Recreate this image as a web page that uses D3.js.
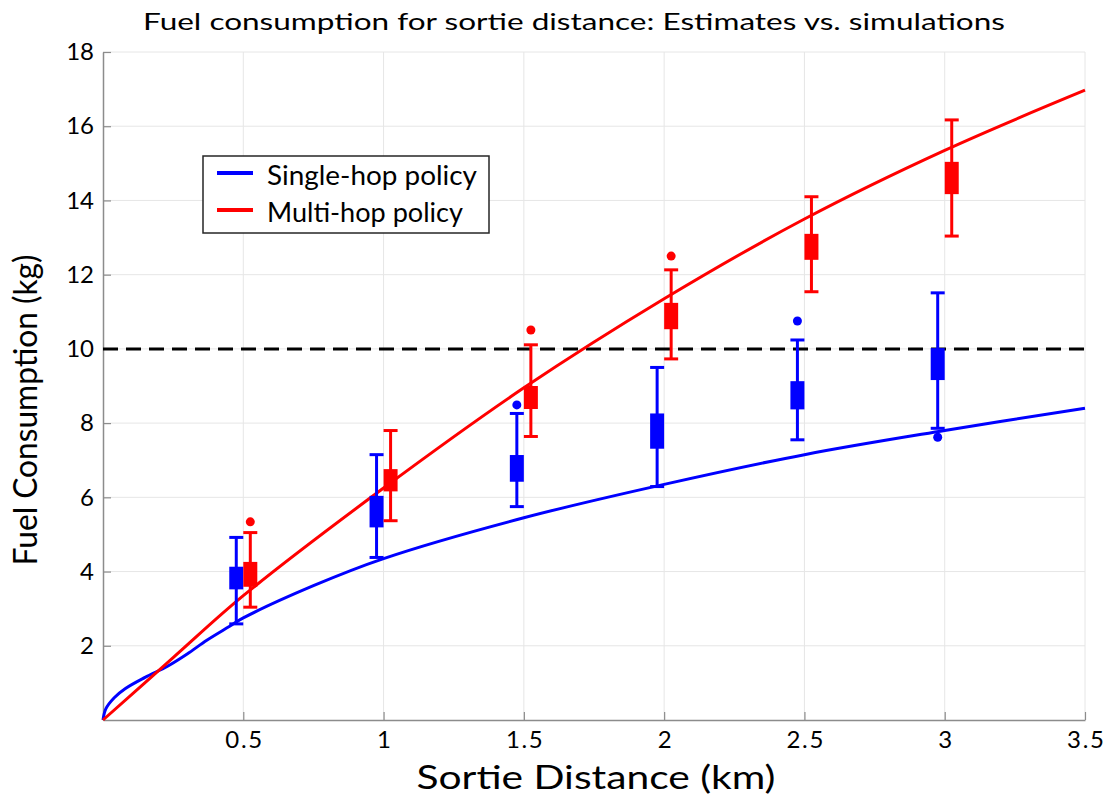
<!DOCTYPE html>
<html>
<head>
<meta charset="utf-8">
<script src="https://cdn.jsdelivr.net/npm/d3@7"></script>
<style>
  body { margin: 0; background: #fff; }
  text { font-family: Lato, "Open Sans", sans-serif; fill: #000; }
</style>
</head>
<body>
<svg width="1107" height="800"></svg>
<script>
// estimate curves
const singleX = [0, 0.01, 0.04, 0.08, 0.15, 0.23, 0.3, 0.37, 0.45, 0.5, 0.75, 1, 1.5, 2, 2.5, 3, 3.5];
const singleY = [0, 0.3, 0.6, 0.85, 1.15, 1.45, 1.78, 2.15, 2.52, 2.75, 3.62, 4.35, 5.45, 6.35, 7.15, 7.8, 8.4];
const multiX = [0, 0.25, 0.5, 1, 1.5, 2, 2.5, 3, 3.5];
const multiY = [0, 1.68, 3.35, 6.25, 8.95, 11.35, 13.5, 15.35, 16.97];

// simulated box plots
const distances = [0.5, 1, 1.5, 2, 2.5, 3];
const singleLow  = [2.59, 4.38, 5.75, 6.29, 7.55, 7.86];
const singleQ1   = [3.52, 5.19, 6.42, 7.31, 8.37, 9.16];
const singleQ3   = [4.13, 6.04, 7.14, 8.26, 9.13, 10.02];
const singleHigh = [4.92, 7.15, 8.26, 9.50, 10.24, 11.51];
const singleOut  = [[], [], [8.49], [], [10.75], [7.62]];

const multiLow  = [3.04, 5.37, 7.64, 9.73, 11.54, 13.04];
const multiQ1   = [3.59, 6.16, 8.38, 10.53, 12.40, 14.17];
const multiQ3   = [4.26, 6.76, 9.00, 11.24, 13.10, 15.04];
const multiHigh = [5.05, 7.80, 10.11, 12.13, 14.10, 16.17];
const multiOut  = [[5.34], [], [10.51], [12.50], [], []];

const threshold = 10;
const xTicks = [0.5, 1, 1.5, 2, 2.5, 3, 3.5];
const yTicks = [2, 4, 6, 8, 10, 12, 14, 16, 18];

const BLUE = '#0000ff', RED = '#ff0000';
const PLOT = { left: 103, right: 1085, top: 52, bottom: 720 };

const x = d3.scaleLinear().domain([0, 3.5]).range([PLOT.left, PLOT.right]);
const y = d3.scaleLinear().domain([0, 18]).range([PLOT.bottom, PLOT.top]);

const svg = d3.select('svg');

// GRID
svg.append('g').selectAll('line').data(xTicks).enter().append('line')
    .attr('x1', d => x(d)).attr('x2', d => x(d))
    .attr('y1', PLOT.top).attr('y2', PLOT.bottom)
    .attr('stroke', '#e6e6e6').attr('stroke-width', 1);
svg.append('g').selectAll('line').data(yTicks).enter().append('line')
    .attr('x1', PLOT.left).attr('x2', PLOT.right)
    .attr('y1', d => y(d)).attr('y2', d => y(d))
    .attr('stroke', '#e6e6e6').attr('stroke-width', 1);

// AXES
const fmt = d3.format('~g');
const xAxis = svg.append('g')
    .attr('transform', `translate(0, ${PLOT.bottom})`)
    .call(d3.axisBottom(x).tickValues(xTicks).tickFormat(fmt).tickSizeInner(-8).tickSizeOuter(0).tickPadding(11));
const yAxis = svg.append('g')
    .attr('transform', `translate(${PLOT.left}, 0)`)
    .call(d3.axisLeft(y).tickValues(yTicks).tickFormat(fmt).tickSizeInner(-8).tickSizeOuter(0).tickPadding(9));
[xAxis, yAxis].forEach(ax => {
    ax.select('.domain').attr('stroke', '#8c8c8c').attr('stroke-width', 1.5);
    ax.selectAll('.tick line').attr('stroke', '#8c8c8c').attr('stroke-width', 1.2);
    ax.selectAll('.tick text').style('font-size', '24px').attr('fill', '#000');
});
xAxis.selectAll('.tick text').attr('textLength', function () { return this.getComputedTextLength() * 1.1; });

// THRESHOLD LINE
svg.append('line')
    .attr('x1', x(0)).attr('x2', x(3.5))
    .attr('y1', y(threshold)).attr('y2', y(threshold))
    .attr('stroke', '#000').attr('stroke-width', 3)
    .attr('stroke-dasharray', '15 8');

// CURVES
const line = d3.line().x(d => x(d[0])).y(d => y(d[1])).curve(d3.curveCatmullRom.alpha(0.5));
svg.append('path').datum(d3.zip(singleX, singleY))
    .attr('d', line).attr('fill', 'none').attr('stroke', BLUE).attr('stroke-width', 3);
svg.append('path').datum(d3.zip(multiX, multiY))
    .attr('d', line).attr('fill', 'none').attr('stroke', RED).attr('stroke-width', 3);

// BOX PLOTS
function drawBoxes(color, offset, low, q1, q3, high, outliers) {
    const g = svg.append('g');
    const data = distances.map((d, i) => ({ d, low: low[i], q1: q1[i], q3: q3[i], high: high[i], out: outliers[i] }));
    const cx = d => x(d.d + offset);
    g.selectAll('.whisker').data(data).enter().append('line')
        .attr('x1', cx).attr('x2', cx)
        .attr('y1', d => y(d.low)).attr('y2', d => y(d.high))
        .attr('stroke', color).attr('stroke-width', 3);
    ['low', 'high'].forEach(k => {
        g.selectAll('.cap-' + k).data(data).enter().append('line')
            .attr('x1', d => cx(d) - 7).attr('x2', d => cx(d) + 7)
            .attr('y1', d => y(d[k])).attr('y2', d => y(d[k]))
            .attr('stroke', color).attr('stroke-width', 3);
    });
    g.selectAll('.box').data(data).enter().append('rect')
        .attr('x', d => cx(d) - 7).attr('width', 14)
        .attr('y', d => y(d.q3)).attr('height', d => y(d.q1) - y(d.q3))
        .attr('fill', color);
    const outs = [];
    data.forEach(d => d.out.forEach(v => outs.push({ d: d.d, v })));
    g.selectAll('.out').data(outs).enter().append('circle')
        .attr('cx', cx).attr('cy', d => y(d.v)).attr('r', 4.5)
        .attr('fill', color);
}
drawBoxes(BLUE, -0.025, singleLow, singleQ1, singleQ3, singleHigh, singleOut);
drawBoxes(RED, 0.025, multiLow, multiQ1, multiQ3, multiHigh, multiOut);

// TITLE AND LABELS
svg.append('text').attr('x', 574).attr('y', 30).attr('text-anchor', 'middle')
    .attr('textLength', 862).attr('lengthAdjust', 'spacingAndGlyphs')
    .style('font-size', '24px').text('Fuel consumption for sortie distance: Estimates vs. simulations');
svg.append('text').attr('x', 596).attr('y', 789).attr('text-anchor', 'middle')
    .attr('textLength', 359).attr('lengthAdjust', 'spacingAndGlyphs')
    .style('font-size', '33px').text('Sortie Distance (km)');
svg.append('text').attr('transform', 'translate(37, 410) rotate(-90)').attr('text-anchor', 'middle')
    .attr('textLength', 311).attr('lengthAdjust', 'spacingAndGlyphs')
    .style('font-size', '33px').text('Fuel Consumption (kg)');

// LEGEND
const legend = svg.append('g').attr('transform', 'translate(203, 156)');
legend.append('rect').attr('width', 286).attr('height', 77)
    .attr('fill', '#fff').attr('stroke', '#262626').attr('stroke-width', 1.5);
const legendItems = [['Single-hop policy', BLUE, 210], ['Multi-hop policy', RED, 196]];
legendItems.forEach(([label, color, w], i) => {
    const ly = 17 + i * 37;
    legend.append('line').attr('x1', 14).attr('x2', 50).attr('y1', ly).attr('y2', ly)
        .attr('stroke', color).attr('stroke-width', 4);
    legend.append('text').attr('x', 64).attr('y', ly).attr('dy', '0.45em')
        .attr('textLength', w).attr('lengthAdjust', 'spacingAndGlyphs')
        .style('font-size', '26px').text(label);
});
</script>
</body>
</html>
